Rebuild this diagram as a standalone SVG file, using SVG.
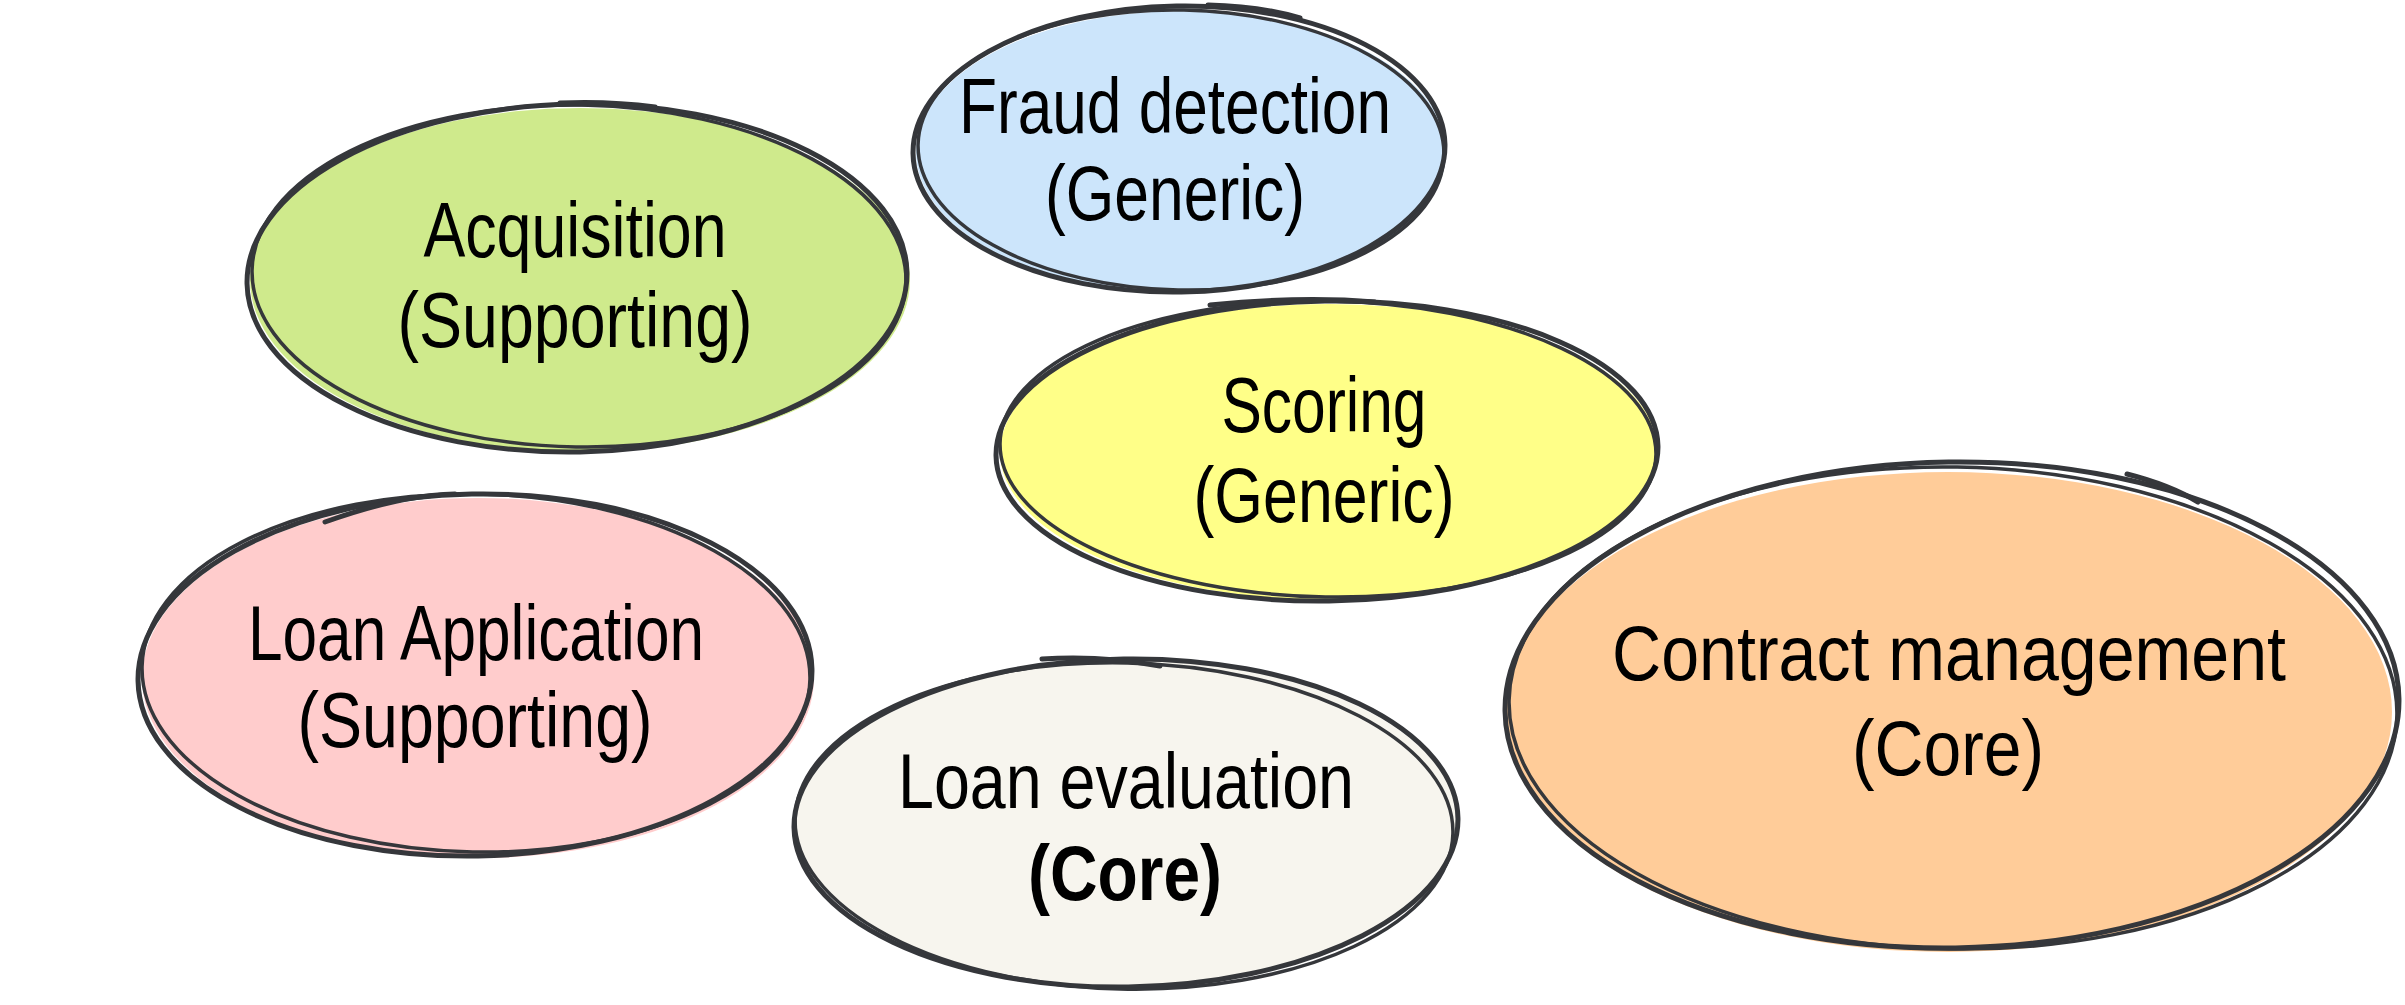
<svg xmlns="http://www.w3.org/2000/svg" width="2405" height="1005" viewBox="0 0 2405 1005">
<style>
.s{fill:none;stroke:#35373b;stroke-width:5;stroke-linecap:round}
.s2{fill:none;stroke:#35373b;stroke-width:3.5;stroke-linecap:round}
.t{font-family:"Liberation Sans",Arial,sans-serif;font-size:78px;fill:#000;text-anchor:middle}
.b{font-weight:bold}
</style>
<rect width="2405" height="1005" fill="#ffffff"/>

<g id="acquisition">
<ellipse cx="580" cy="280" rx="330" ry="172" fill="#cfea8c"/>
<ellipse class="s" cx="577" cy="278" rx="330" ry="174" transform="rotate(-1 577 278)"/>
<ellipse class="s2" cx="579" cy="276" rx="327" ry="171" transform="rotate(1 579 276)"/>
<path class="s" d="M560 103 Q610 101 655 107"/>
<text class="t" x="575" y="257" textLength="303" lengthAdjust="spacingAndGlyphs">Acquisition</text>
<text class="t" x="575" y="347" textLength="355" lengthAdjust="spacingAndGlyphs">(Supporting)</text>
</g>

<g id="fraud">
<ellipse cx="1181" cy="152" rx="265" ry="141" fill="#cce5fb"/>
<ellipse class="s" cx="1179" cy="149" rx="266" ry="143" transform="rotate(-1 1179 149)"/>
<ellipse class="s2" cx="1181" cy="150" rx="263" ry="140" transform="rotate(1.2 1181 150)"/>
<path class="s" d="M1208 5 Q1260 6 1300 18"/>
<text class="t" x="1175" y="133" textLength="432" lengthAdjust="spacingAndGlyphs">Fraud detection</text>
<text class="t" x="1175" y="220" textLength="260" lengthAdjust="spacingAndGlyphs">(Generic)</text>
</g>

<g id="scoring">
<ellipse cx="1329" cy="452" rx="329" ry="148" fill="#ffff88"/>
<ellipse class="s" cx="1327" cy="451" rx="331" ry="150" transform="rotate(-0.8 1327 451)"/>
<ellipse class="s2" cx="1328" cy="449" rx="328" ry="148" transform="rotate(1 1328 449)"/>
<path class="s" d="M1210 305 Q1300 296 1375 302"/>
<text class="t" x="1324" y="432" textLength="205" lengthAdjust="spacingAndGlyphs">Scoring</text>
<text class="t" x="1324" y="522" textLength="261" lengthAdjust="spacingAndGlyphs">(Generic)</text>
</g>

<g id="loanapp">
<ellipse cx="478" cy="678" rx="336" ry="180" fill="#ffcccc"/>
<ellipse class="s" cx="475" cy="675" rx="337" ry="181" transform="rotate(-1 475 675)"/>
<ellipse class="s2" cx="476" cy="673" rx="334" ry="179" transform="rotate(1.1 476 673)"/>
<path class="s" d="M325 522 Q400 495 455 494"/>
<text class="t" x="476" y="660" textLength="456" lengthAdjust="spacingAndGlyphs">Loan Application</text>
<text class="t" x="475" y="747" textLength="355" lengthAdjust="spacingAndGlyphs">(Supporting)</text>
</g>

<g id="loaneval">
<ellipse cx="1127" cy="823" rx="331" ry="163" fill="#f7f5ee"/>
<ellipse class="s" cx="1126" cy="823" rx="332" ry="164" transform="rotate(-0.8 1126 823)"/>
<ellipse class="s2" cx="1124" cy="826" rx="329" ry="163" transform="rotate(1.3 1124 826)"/>
<path class="s" d="M1042 659 Q1100 655 1160 666"/>
<text class="t" x="1126" y="808" textLength="456" lengthAdjust="spacingAndGlyphs">Loan evaluation</text>
<text class="t b" x="1125" y="900" textLength="194" lengthAdjust="spacingAndGlyphs">(Core)</text>
</g>

<g id="contract">
<ellipse cx="1948" cy="712" rx="444" ry="240" fill="#ffcc99"/>
<ellipse class="s" cx="1952" cy="705" rx="447" ry="243" transform="rotate(-0.8 1952 705)"/>
<ellipse class="s2" cx="1953" cy="708" rx="444" ry="241" transform="rotate(1 1953 708)"/>
<path class="s" d="M2127 474 Q2170 485 2198 502"/>
<text class="t" x="1949" y="680" textLength="674" lengthAdjust="spacingAndGlyphs">Contract management</text>
<text class="t" x="1948" y="775" textLength="192" lengthAdjust="spacingAndGlyphs">(Core)</text>
</g>

<g id="connectors"></g>
</svg>
